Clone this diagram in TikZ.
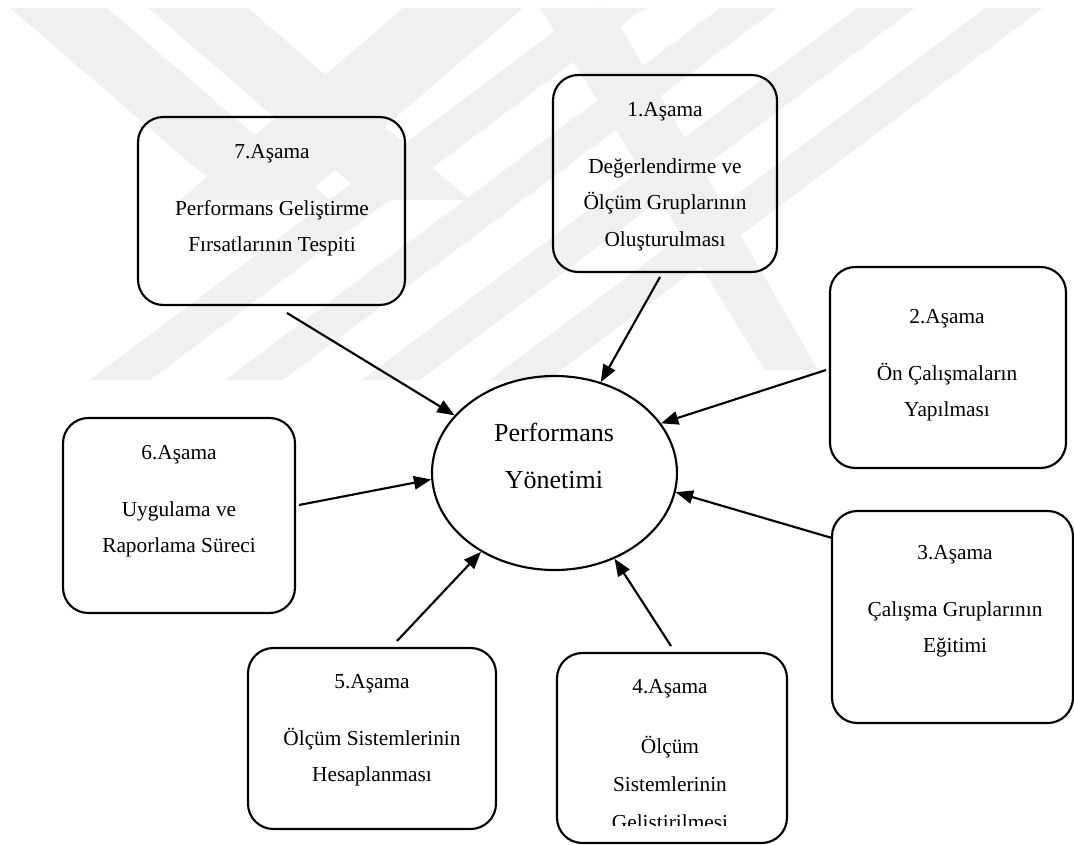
\documentclass[tikz,border=0pt]{standalone}
\usepackage{fontspec}
\setmainfont{Liberation Serif}
\usetikzlibrary{shapes.geometric,arrows.meta}

\tikzset{
  stagebox/.style 2 args={draw, line width=1.6pt, rounded corners=19pt,
    minimum width=#1*0.75pt, minimum height=#2*0.75pt, inner sep=0pt},
  stagetext/.style={anchor=north, align=center, inner sep=0pt,
    font=\fontsize{16}{27.4}\selectfont},
  arr/.style={-{Triangle[length=13pt,width=10pt]}, line width=1.6pt},
  wm/.style={fill=black!6, draw=none}
}

\begin{document}
\begin{tikzpicture}[x=0.75pt, y=-0.75pt]
	\useasboundingbox (0,0) rectangle (1074,845);

	% watermark
	\fill[wm] (10,8) -- (107,8) -- (330,200) -- (233,200) -- cycle;
	\fill[wm] (148,8) -- (248,8) -- (470,200) -- (370,200) -- cycle;
	\fill[wm] (403,8) -- (523,8) -- (300,200) -- (180,200) -- cycle;
	\fill[wm] (540,8) -- (610,8) -- (818,370) -- (765,370) -- cycle;
	\fill[wm] (585,8) -- (645,8) -- (150,380) -- (90,380) -- cycle;
	\fill[wm] (720,8) -- (778,8) -- (283,380) -- (225,380) -- cycle;
	\fill[wm] (857,8) -- (915,8) -- (420,380) -- (362,380) -- cycle;
	\fill[wm] (985,8) -- (1043,8) -- (548,380) -- (490,380) -- cycle;

	% center
	\node [draw, ellipse, line width=1.6pt, inner sep=0pt, minimum width=183.75pt, minimum height=145.5pt] (pm) at (554.5,473) {};
	\node [anchor=north, align=center, inner sep=0pt, font=\fontsize{19.5}{35.25}\selectfont] (pmtext) at (554,423) {Performans\\Yönetimi};

	% stages
	\node [stagebox={267}{188}] (s7) at (271.5,211) {};
	\node [stagebox={224}{197}] (s1) at (665,173.5) {};
	\node [stagebox={236}{201}] (s2) at (948,367.5) {};
	\node [stagebox={232}{195}] (s6) at (179,515.5) {};
	\node [stagebox={241}{212}] (s3) at (952.5,617) {};
	\node [stagebox={248}{181}] (s5) at (372,738.5) {};
	\node [stagebox={230}{190}] (s4) at (672,748) {};

	\node [stagetext] (t7) at (272,144) {7.Aşama\\[15.4pt]Performans Geliştirme\\Fırsatlarının Tespiti};
	\node [stagetext] (t1) at (665,102) {1.Aşama\\[15.4pt]Değerlendirme ve\\Ölçüm Gruplarının\\Oluşturulması};
	\node [stagetext] (t2) at (947,309) {2.Aşama\\[15.4pt]Ön Çalışmaların\\Yapılması};
	\node [stagetext] (t6) at (179,445) {6.Aşama\\[15.4pt]Uygulama ve\\Raporlama Süreci};
	\node [stagetext] (t3) at (955,545) {3.Aşama\\[15.4pt]Çalışma Gruplarının\\Eğitimi};
	\node [stagetext] (t5) at (372,674) {5.Aşama\\[15.4pt]Ölçüm Sistemlerinin\\Hesaplanması};
	\begin{scope}
		\clip (0,0) rectangle (1074,825);
		\node [stagetext, font=\fontsize{16}{28.5}\selectfont] (t4) at (670,679) {4.Aşama\\[16.5pt]Ölçüm\\Sistemlerinin\\Geliştirilmesi};
	\end{scope}

	% arrows
	\coordinate (a7) at (287,313);
	\coordinate (a1) at (660,277);
	\coordinate (a2) at (826,370);
	\coordinate (a6) at (299,505);
	\coordinate (a3) at (832,538);
	\coordinate (a5) at (397,641);
	\coordinate (a4) at (671,646);

	\draw [arr] (a7) to (pm.150);
	\draw [arr] (a1) to (pm.63);
	\draw [arr] (a2) to (pm.25);
	\draw [arr] (a6) to (pm.183);
	\draw [arr] (a3) to (pm.351);
	\draw [arr] (a5) to (pm.227);
	\draw [arr] (a4) to (pm.305);
\end{tikzpicture}
\end{document}
